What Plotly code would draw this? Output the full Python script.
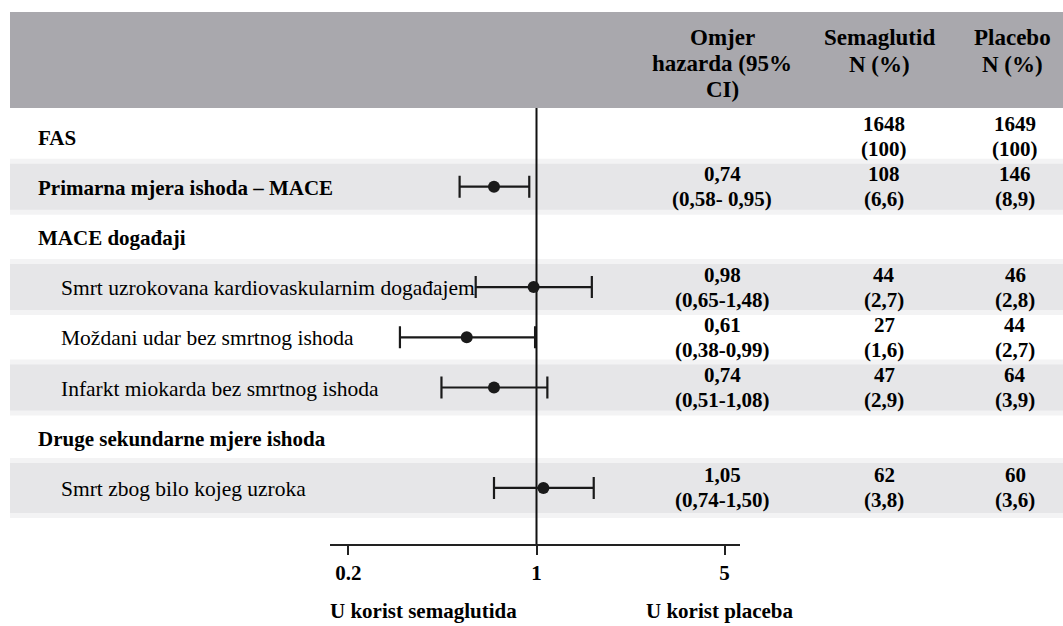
import plotly.graph_objects as go

# ---------------- data ----------------
rows = [
    "FAS",
    "Primarna mjera ishoda – MACE",
    "MACE događaji",
    "Smrt uzrokovana kardiovaskularnim događajem",
    "Moždani udar bez smrtnog ishoda",
    "Infarkt miokarda bez smrtnog ishoda",
    "Druge sekundarne mjere ishoda",
    "Smrt zbog bilo kojeg uzroka",
]
hr = [None, 0.74, None, 0.98, 0.61, 0.74, None, 1.05]
ci_lo = [None, 0.58, None, 0.65, 0.38, 0.51, None, 0.74]
ci_hi = [None, 0.95, None, 1.48, 0.99, 1.08, None, 1.50]
hr_labels = [None, "0,74", None, "0,98", "0,61", "0,74", None, "1,05"]
ci_labels = [None, "(0,58- 0,95)", None, "(0,65-1,48)", "(0,38-0,99)", "(0,51-1,08)", None, "(0,74-1,50)"]
sema_n = [1648, 108, None, 44, 27, 47, None, 62]
sema_pct = ["100", "6,6", None, "2,7", "1,6", "2,9", None, "3,8"]
plac_n = [1649, 146, None, 46, 44, 64, None, 60]
plac_pct = ["100", "8,9", None, "2,8", "2,7", "3,9", None, "3,6"]

header_hr = ["Omjer", "hazarda (95%", "CI)"]
header_sema = ["Semaglutid", "N (%)"]
header_plac = ["Placebo", "N (%)"]
tick_vals = [0.2, 1, 5]
tick_text = ["0.2", "1", "5"]
favours = ["U korist semaglutida", "U korist placeba"]

# ---------------- layout helpers ----------------
W, H = 1063, 626
ROW0, ROWH = 136.5, 50.2          # pixel centre of first row, row pitch


def py(p):
    """pixel y -> y-axis value"""
    return (p - ROW0) / ROWH


def px(p):
    return p / W


FONT = "Liberation Serif, Times New Roman, serif"
subrows = {3, 4, 5, 7}
banded = {1, 3, 5, 7}

fig = go.Figure()

# reference line at HR = 1
fig.add_trace(go.Scatter(
    x=[1, 1], y=[py(108), py(545)], mode="lines",
    line=dict(color="#111111", width=2), hoverinfo="skip", showlegend=False))

# estimates with CI
idx = [i for i, v in enumerate(hr) if v is not None]
fig.add_trace(go.Scatter(
    x=[hr[i] for i in idx], y=idx, mode="markers",
    marker=dict(color="#1a1a1a", size=12),
    error_x=dict(type="data", symmetric=False,
                 array=[ci_hi[i] - hr[i] for i in idx],
                 arrayminus=[hr[i] - ci_lo[i] for i in idx],
                 color="#1a1a1a", thickness=2.2, width=11),
    hoverinfo="skip", showlegend=False))

# invisible trace on the display axis
fig.add_trace(go.Scatter(x=[1], y=[py(545)], xaxis="x2", mode="markers",
                         marker=dict(opacity=0), hoverinfo="skip", showlegend=False))

shapes = []
# header band
shapes.append(dict(type="rect", xref="paper", yref="paper", x0=px(10), x1=1,
                   y0=1 - 12 / H, y1=1 - 108 / H, fillcolor="#a9a8ad", line=dict(width=0), layer="below"))
# row bands (soft edges)
for i in banded:
    c = ROW0 + ROWH * i
    half = 27 if i == 7 else 25
    shapes.append(dict(type="rect", xref="paper", yref="paper", x0=px(10), x1=1,
                       y0=1 - (c - half - 3) / H, y1=1 - (c + half + 3) / H, fillcolor="#f3f3f4",
                       line=dict(width=0), layer="below"))
    shapes.append(dict(type="rect", xref="paper", yref="paper", x0=px(10), x1=1,
                       y0=1 - (c - half + 2) / H, y1=1 - (c + half - 2) / H, fillcolor="#e6e6e8",
                       line=dict(width=0), layer="below"))

ann = []


def text(x, y, s, bold=True, anchor="center", size=21):
    ann.append(dict(x=px(x), y=1 - y / H, xref="paper", yref="paper",
                    text=f"<b>{s}</b>" if bold else s,
                    showarrow=False, xanchor=anchor, yanchor="middle",
                    font=dict(family=FONT, size=size, color="black")))


# headers
for k, s in enumerate(header_hr):
    text(722, 37 + 26 * k, s, size=23)
for k, s in enumerate(header_sema):
    text(879, 37 + 27 * k, s, size=23)
for k, s in enumerate(header_plac):
    text(1012, 37 + 27 * k, s, size=23)

# row content
for i, lab in enumerate(rows):
    c = ROW0 + ROWH * i
    if i in subrows:
        text(59, c + 1, lab, bold=False, anchor="left", size=21.5)
    else:
        text(36, c + 1.5, lab, bold=True, anchor="left")
    if hr_labels[i] is not None:
        text(722, c - 12.5, hr_labels[i])
        text(722, c + 12.5, ci_labels[i])
    if sema_n[i] is not None:
        text(884, c - 12.5, str(sema_n[i]))
        text(884, c + 12.5, f"({sema_pct[i]})")
        text(1015, c - 12.5, str(plac_n[i]))
        text(1015, c + 12.5, f"({plac_pct[i]})")

# favour labels
text(423, 611, favours[0])
text(720, 611, favours[1])

fig.update_layout(
    width=W, height=H, margin=dict(l=0, r=0, t=0, b=0),
    paper_bgcolor="white", plot_bgcolor="rgba(0,0,0,0)",
    shapes=shapes, annotations=ann,
    xaxis=dict(type="log", range=[-536.5 / 325, (W - 536.5) / 325], domain=[0, 1],
               visible=False, fixedrange=True),
    xaxis2=dict(type="log", anchor="free", position=1 - 545 / H,
                domain=[330 / W, 740 / W],
                range=[(330 - 536.5) / 269, (740 - 536.5) / 269],
                showline=True, linecolor="#222222", linewidth=2,
                ticks="outside", ticklen=9, tickwidth=2, tickcolor="#222222",
                tickvals=tick_vals, ticktext=[f"<b>{t}</b>" for t in tick_text],
                tickfont=dict(family=FONT, size=21, color="black"),
                showgrid=False, zeroline=False, side="bottom", fixedrange=True),
    yaxis=dict(range=[py(H), py(0)], visible=False, fixedrange=True),
    showlegend=False,
)

fig.write_html("out.html", config={"displayModeBar": False},
               post_script="document.body.style.margin='0';document.body.style.overflow='hidden';")
